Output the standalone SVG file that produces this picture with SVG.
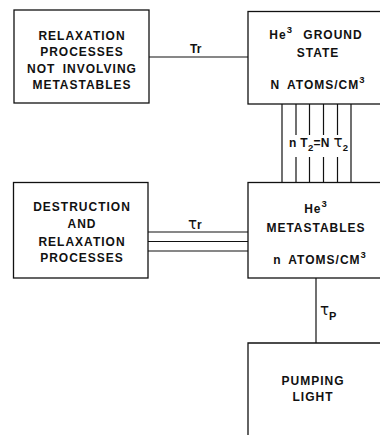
<svg xmlns="http://www.w3.org/2000/svg" width="380" height="435" viewBox="0 0 380 435">
<style>
.box{fill:none;stroke:#111;stroke-width:1.3}
.ln{stroke:#111;stroke-width:1.2;fill:none}
.t{font-family:"Liberation Sans",Arial,sans-serif;font-weight:bold;font-size:12px;letter-spacing:1px;fill:#111;text-anchor:middle;word-spacing:3px}
.g{font-family:"Liberation Sans",Arial,sans-serif;font-weight:bold;font-size:12px;fill:#111}
.tau{font-family:"DejaVu Sans",sans-serif;font-weight:normal;font-size:15px}
.sup{font-size:9.5px}
</style>
<rect width="380" height="435" fill="#fff"/>
<g id="connectors">
  <line class="ln" x1="149" y1="57" x2="248" y2="57"/>
  <line class="ln" x1="148" y1="232" x2="248" y2="232"/>
  <line class="ln" x1="148" y1="241.5" x2="248" y2="241.5"/>
  <line class="ln" x1="148" y1="251" x2="248" y2="251"/>
  <line class="ln" x1="282" y1="104" x2="282" y2="182"/>
  <line class="ln" x1="296" y1="104" x2="296" y2="135"/>
  <line class="ln" x1="296" y1="157" x2="296" y2="182"/>
  <line class="ln" x1="309.5" y1="104" x2="309.5" y2="135"/>
  <line class="ln" x1="309.5" y1="157" x2="309.5" y2="182"/>
  <line class="ln" x1="323.5" y1="104" x2="323.5" y2="135"/>
  <line class="ln" x1="323.5" y1="157" x2="323.5" y2="182"/>
  <line class="ln" x1="337.5" y1="104" x2="337.5" y2="135"/>
  <line class="ln" x1="337.5" y1="157" x2="337.5" y2="182"/>
  <line class="ln" x1="351" y1="104" x2="351" y2="182"/>
  <line class="ln" x1="316" y1="278" x2="316" y2="343"/>
  <text class="g" x="190" y="53">Tr</text>
  <text class="g" x="188" y="229"><tspan class="tau">τ</tspan>r</text>
  <text class="g" x="289" y="147" letter-spacing="0.3">n T<tspan class="sup" dy="4">2</tspan><tspan dy="-4">=N </tspan><tspan class="tau">τ</tspan><tspan class="sup" dy="4">2</tspan></text>
  <text class="g" x="320" y="315"><tspan class="tau">τ</tspan><tspan dy="5" font-size="11">P</tspan></text>
</g>
<g id="relaxation">
  <rect class="box" x="14" y="10" width="135" height="93"/>
  <text class="t" x="82" y="39.5">RELAXATION</text>
  <text class="t" x="82" y="56">PROCESSES</text>
  <text class="t" x="82" y="72.5">NOT INVOLVING</text>
  <text class="t" x="82" y="88.5">METASTABLES</text>
</g>
<g id="ground">
  <rect class="box" x="248" y="11.5" width="150" height="92.5"/>
  <text class="t" x="316" y="39">He<tspan class="sup" dy="-6">3</tspan><tspan dy="6" dx="3"> GROUND</tspan></text>
  <text class="t" x="318" y="56.5">STATE</text>
  <text class="t" x="318" y="88.5" word-spacing="5px">N ATOMS/CM<tspan class="sup" dy="-6">3</tspan></text>
</g>
<g id="destruction">
  <rect class="box" x="13.5" y="182.5" width="134.5" height="95.5"/>
  <text class="t" x="82" y="211">DESTRUCTION</text>
  <text class="t" x="82" y="228">AND</text>
  <text class="t" x="82" y="245.5">RELAXATION</text>
  <text class="t" x="82" y="262">PROCESSES</text>
</g>
<g id="metastables">
  <rect class="box" x="248" y="182.5" width="150" height="95.5"/>
  <text class="t" x="316" y="212.5">He<tspan class="sup" dy="-6">3</tspan></text>
  <text class="t" x="316" y="231.5">METASTABLES</text>
  <text class="t" x="320" y="263.5" word-spacing="7px">n ATOMS/CM<tspan class="sup" dy="-6">3</tspan></text>
</g>
<g id="pumping">
  <path class="box" d="M248 440 V343 H400"/>
  <text class="t" x="313" y="384.5">PUMPING</text>
  <text class="t" x="313" y="401">LIGHT</text>
</g>
</svg>
